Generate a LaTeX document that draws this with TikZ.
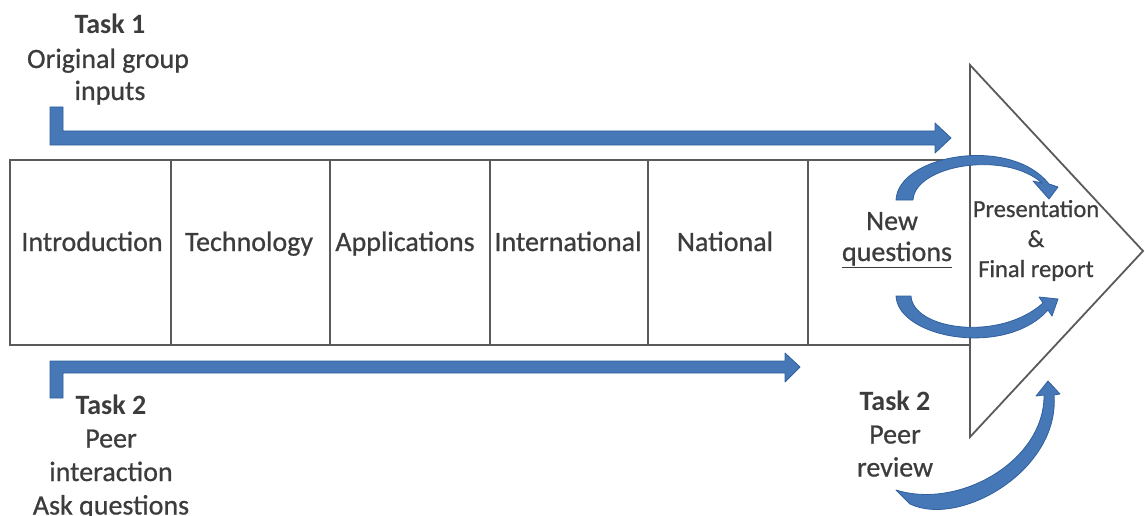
\documentclass[tikz,border=0pt]{standalone}
\usepackage{fontspec}
\setmainfont{Carlito}
\newfontface\semib{Carlito}[FakeBold=0.7]
\definecolor{txt}{HTML}{3C3C3C}
\definecolor{edge}{HTML}{5A5A5A}
\definecolor{bfill}{HTML}{4678B8}
\definecolor{bdraw}{HTML}{2F5F9C}
\begin{document}
\begin{tikzpicture}[x=1pt,y=-1pt,
  lbl/.style={anchor=base, text=txt, font=\fontsize{28}{33}\selectfont\semib, inner sep=0pt},
  lblb/.style={lbl, font=\fontsize{28}{33}\selectfont\bfseries},
  small/.style={anchor=base, text=txt, font=\fontsize{24.5}{29}\selectfont\semib, inner sep=0pt},
  outline/.style={draw=edge, line width=1.8pt, line join=miter},
  blockarrow/.style={fill=bfill, draw=bdraw, line width=0.8pt, line join=round}]
\useasboundingbox (0,0) rectangle (1145,516);

% main block arrow outline
\draw[outline] (10,160) -- (970,160) -- (970,65) -- (1143,251) -- (970,437) -- (970,345) -- (10,345) -- cycle;
\foreach \x in {171,330,490,648,808,970} \draw[outline] (\x,160) -- (\x,345);

% box labels
\node[lbl] (intro) at (92,251) {Introduction};
\node[lbl] (tech)  at (249,251) {Technology};
\node[lbl] (appl)  at (405,251) {Applications};
\node[lbl] (intl)  at (568,251) {International};
\node[lbl] (natl)  at (725,251) {National};

% new questions
\node[lbl] (new)  at (892,230) {New};
\node[lbl] (newq) at (897,261) {\underline{questions}};

% presentation
\node[small] (pres1) at (1036,217) {Presentation};
\node[small] (pres2) at (1036,247) {\&};
\node[small] (pres3) at (1036,277) {Final report};

% task 1 text
\node[lblb] (t1a) at (110,34) {Task 1};
\node[lbl]  (t1b) at (108,68) {Original group};
\node[lbl]  (t1c) at (110,100) {inputs};

% task 2 left text
\node[lblb] (t2a) at (111,414) {Task 2};
\node[lbl]  (t2b) at (111,447.5) {Peer};
\node[lbl]  (t2c) at (111,481) {interaction};
\node[lbl]  (t2d) at (111,514.5) {Ask questions};

% task 2 right text
\node[lblb] (t3a) at (895,410.5) {Task 2};
\node[lbl]  (t3b) at (895,443.5) {Peer};
\node[lbl]  (t3c) at (895,476.5) {review};

% top L-shaped arrow
\draw[blockarrow] (50,107) -- (63,107) -- (63,131) -- (935,131) -- (935,123) -- (951,138) -- (935,153) -- (935,145) -- (50,145) -- cycle;
% bottom L-shaped arrow
\draw[blockarrow] (50,361) -- (785,361) -- (785,353) -- (800,367) -- (785,382) -- (785,373) -- (63,373) -- (63,398) -- (50,398) -- cycle;

% upper curved arrow
\draw[blockarrow] (896,200) .. controls (898,155) and (1010,135) .. (1049,184)
  -- (1058,187) -- (1049,199) -- (1033,181) -- (1042,183)
  .. controls (1005,150) and (915,165) .. (913,200) -- cycle;
% lower curved arrow
\draw[blockarrow] (896,296) .. controls (898,338) and (1005,358) .. (1048,310)
  -- (1052,316) -- (1058,299) -- (1039,297) -- (1043,303)
  .. controls (1000,342) and (913,330) .. (911,296) -- cycle;
% bottom curved arrow
\draw[blockarrow] (910,504) .. controls (960,528) and (1060,470) .. (1054,395)
  -- (1060,394) -- (1048,381) -- (1036,396) -- (1044,395)
  .. controls (1045,460) and (960,510) .. (896,490) -- cycle;
\end{tikzpicture}
\end{document}
